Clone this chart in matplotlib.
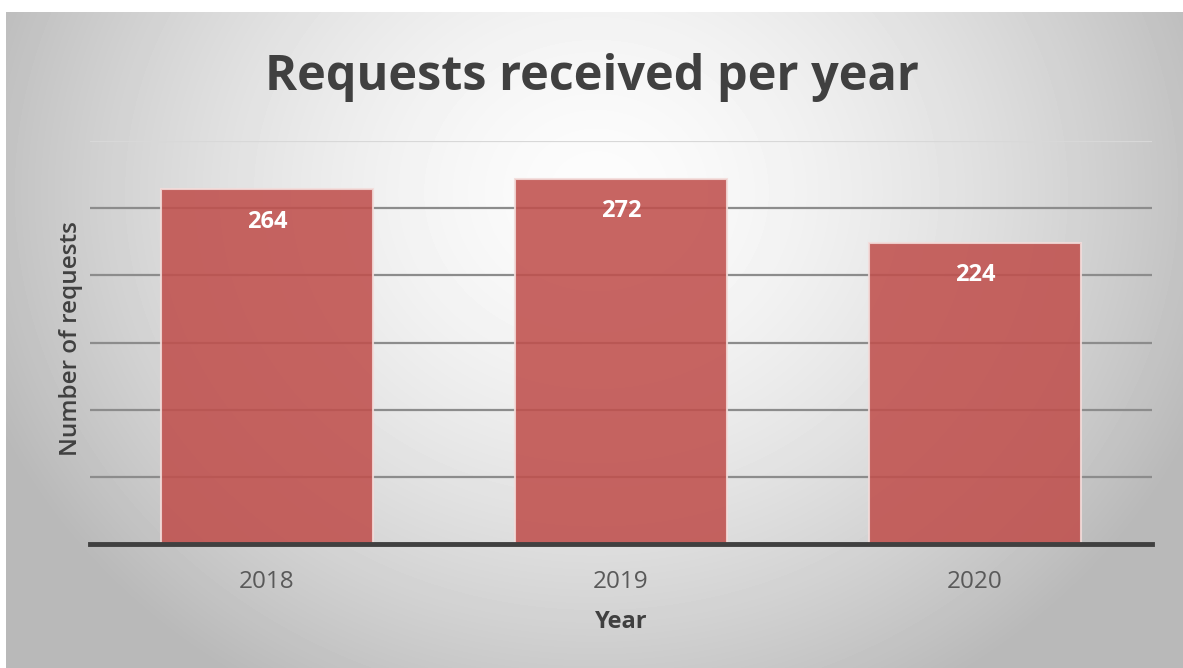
import matplotlib
matplotlib.use("Agg")
import matplotlib.pyplot as plt
import numpy as np

years = ["2018", "2019", "2020"]
requests_count = [264, 272, 224]
# values

plt.rcParams['font.family'] = ['Open Sans', 'DejaVu Sans']

fig = plt.figure(figsize=(11.83, 6.68), dpi=100)
fig.patch.set_facecolor("white")

# radial grey background, white in the middle
bg = fig.add_axes([6 / 1183, 0, 1 - 6 / 1183, 1 - 12 / 668])
bg.set_axis_off()
yy, xx = np.mgrid[0:656, 0:1177]
r = np.sqrt(((xx - 590) / 700.0) ** 2 + ((yy - 180) / 620.0) ** 2)
shade = np.clip(252 - 75 * r ** 1.6, 185, 252) / 255.0
bg.imshow(shade, cmap="gray", vmin=0, vmax=1, aspect="auto",
          interpolation="bilinear")

ax = fig.add_axes([90 / 1183, 124 / 668, (1152 - 90) / 1183, (544 - 141) / 668])
ax.patch.set_alpha(0)

xpos = np.arange(len(years))
bars = ax.bar(xpos, requests_count, width=0.6, color="#c0504d", alpha=0.88,
              edgecolor="#f3dcda", linewidth=1.5, zorder=3)

for b, v in zip(bars, requests_count):
    ax.text(b.get_x() + b.get_width() / 2, v - 24, str(v), ha="center",
            va="center", color="white", fontsize=17, fontweight="bold",
            zorder=5)

ax.set_xlim(-0.5, 2.5)
ax.set_ylim(0, 300)
ax.set_yticks(np.arange(0, 301, 50))
ax.yaxis.grid(True, color="#8c8c8c", linewidth=1.6, zorder=1)
ax.yaxis.get_gridlines()[-1].set_color("#d8d8d8")
ax.set_axisbelow(True)
ax.tick_params(axis="y", length=0, labelleft=False)
ax.tick_params(axis="x", length=0, pad=19, labelsize=17.5, labelcolor="#595959")
ax.set_xticks(xpos)
ax.set_xticklabels(years)
for s in ["top", "right", "left"]:
    ax.spines[s].set_visible(False)
ax.spines["bottom"].set_color("#404040")
ax.spines["bottom"].set_linewidth(3.5)
ax.spines["bottom"].set_zorder(6)

ax.set_xlabel("Year", fontsize=17, fontweight="bold", color="#404040",
              labelpad=11)
ax.set_ylabel("Number of requests", fontsize=17.5, fontweight="semibold",
              color="#404040")
ax.yaxis.set_label_coords(-0.007, 0.51)

fig.text(0.5, 1 - 77 / 668, "Requests received per year", ha="center",
         va="center", fontsize=35, fontweight="bold", color="#404040")

fig.savefig("out.png", dpi=100)
